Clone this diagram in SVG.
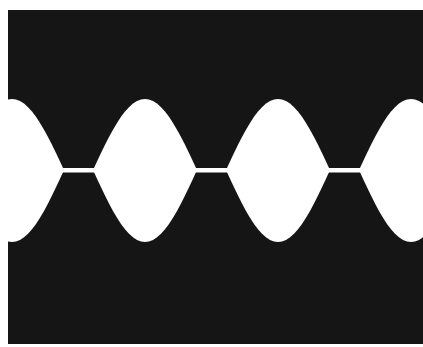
<svg xmlns="http://www.w3.org/2000/svg" xmlns:xlink="http://www.w3.org/1999/xlink" width="423" height="347" viewBox="0 0 423 347">
<defs>
<style>.w{fill:#ffffff}</style>
<polygon id="lens" points="-52,0 -48,-8.56 -44,-16.99 -40,-25.18 -36,-32.99 -32,-40.33 -28,-47.08 -24,-53.14 -20,-58.43 -16,-62.87 -12,-66.39 -8,-68.94 -4,-70.48 0,-71 4,-70.48 8,-68.94 12,-66.39 16,-62.87 20,-58.43 24,-53.14 28,-47.08 32,-40.33 36,-32.99 40,-25.18 44,-16.99 48,-8.56 52,0 48,8.68 44,17.23 40,25.53 36,33.46 32,40.9 28,47.74 24,53.89 20,59.25 16,63.75 12,67.32 8,69.91 4,71.47 0,72 -4,71.47 -8,69.91 -12,67.32 -16,63.75 -20,59.25 -24,53.89 -28,47.74 -32,40.9 -36,33.46 -40,25.53 -44,17.23 -48,8.68"/>
</defs>
<rect width="423" height="347" fill="#ffffff"/>
<rect x="8" y="10" width="415" height="334" fill="#151515"/>
<rect class="w" x="0" y="168" width="423" height="4.5"/>
<use xlink:href="#lens" class="w" transform="translate(12,170)"/>
<use xlink:href="#lens" class="w" transform="translate(145,170)"/>
<use xlink:href="#lens" class="w" transform="translate(278,170)"/>
<use xlink:href="#lens" class="w" transform="translate(411,170)"/>
</svg>
